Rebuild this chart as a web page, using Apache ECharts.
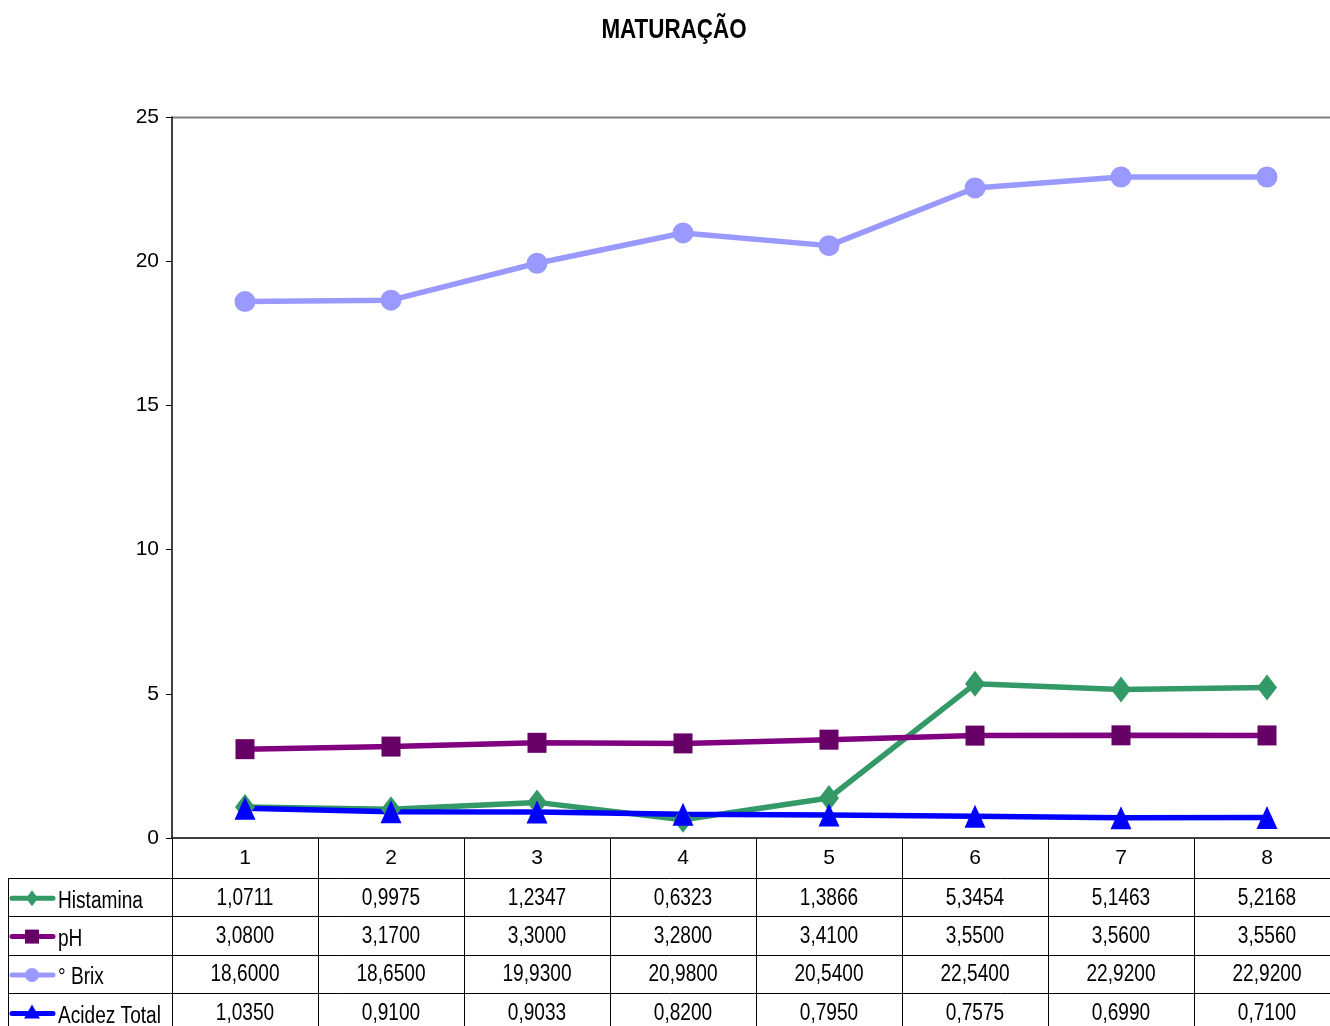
<!DOCTYPE html>
<html><head><meta charset="utf-8">
<script src="https://cdn.jsdelivr.net/npm/echarts@6/dist/echarts.min.js"></script>
<style>html,body{margin:0;padding:0;background:#fff}#c{width:1330px;height:1026px}</style>
</head><body><div id="c"></div>
<script>
var categories = ['1','2','3','4','5','6','7','8'];
var histamina = [1.0711, 0.9975, 1.2347, 0.6323, 1.3866, 5.3454, 5.1463, 5.2168];
var ph = [3.0800, 3.1700, 3.3000, 3.2800, 3.4100, 3.5500, 3.5600, 3.5560];
var brix = [18.6000, 18.6500, 19.9300, 20.9800, 20.5400, 22.5400, 22.9200, 22.9200];
var acidez = [1.0350, 0.9100, 0.9033, 0.8200, 0.7950, 0.7575, 0.6990, 0.7100];
var yTicks = [0, 5, 10, 15, 20, 25];
var seriesNames = ['Histamina', 'pH', '° Brix', 'Acidez Total'];
var titleText = 'MATURAÇÃO';

var FONT = '"Liberation Sans", Arial, sans-serif';
var SX = 0.83;
var chart = echarts.init(document.getElementById('c'));
var rows = [
  {name: seriesNames[0], data: histamina, color: '#339966', mcolor: '#339966', symbol: 'diamond', size: [20, 26]},
  {name: seriesNames[1], data: ph, color: '#800080', mcolor: '#660066', symbol: 'rect', size: [19, 20]},
  {name: seriesNames[2], data: brix, color: '#9999FF', mcolor: '#9999FF', symbol: 'circle', size: [21, 21]},
  {name: seriesNames[3], data: acidez, color: '#0000FF', mcolor: '#0000FF', symbol: 'triangle', size: [21, 23]}
];
var option = {
  animation: false,
  textStyle: {fontFamily: FONT},
  grid: {left: 172, width: 1168, top: 117, bottom: 188, containLabel: false, outerBoundsMode: 'none'},
  xAxis: {
    type: 'category', data: categories, boundaryGap: true,
    axisLine: {lineStyle: {color: '#000', width: 1.5}},
    axisTick: {show: true, length: 190, lineStyle: {color: '#000', width: 1}},
    axisLabel: {fontFamily: FONT, fontSize: 21, color: '#000', margin: 10}
  },
  yAxis: {
    type: 'value', min: 0, max: 25, interval: 5,
    axisLine: {show: true, lineStyle: {color: '#000', width: 1.5}},
    axisTick: {show: true, length: 6, lineStyle: {color: '#000'}},
    splitLine: {show: false},
    axisLabel: {fontFamily: FONT, fontSize: 21, color: '#000', margin: 13,
      formatter: function (v) { return yTicks.indexOf(v) >= 0 ? String(v) : ''; }}
  },
  series: rows.map(function (r) {
    return {
      name: r.name, type: 'line', data: r.data,
      symbol: r.symbol, symbolSize: r.size,
      lineStyle: {color: r.color, width: 5.5},
      itemStyle: {color: r.mcolor, borderWidth: 0}
    };
  })
};
chart.setOption(option);

function fmt(v) { return v.toFixed(4).replace('.', ','); }
var g = [];
var rowTop = 878, rowH = 38.4, tableLeft = 8, tableRight = 1340;
g.push({type: 'text', x: 674, y: 31, scaleX: SX, style: {text: titleText, font: 'bold 27px ' + FONT, fill: '#000', textAlign: 'center', textVerticalAlign: 'middle'}});
g.push({type: 'line', shape: {x1: 172, y1: 117.5, x2: 1330, y2: 117.5}, style: {stroke: '#808080', lineWidth: 2}});
for (var i = 0; i < 4; i++) {
  var y = Math.round(rowTop + i * rowH) + 0.5;
  g.push({type: 'line', shape: {x1: tableLeft, y1: y, x2: tableRight, y2: y}, style: {stroke: '#000', lineWidth: 1}});
}
g.push({type: 'line', shape: {x1: tableLeft + 0.5, y1: rowTop, x2: tableLeft + 0.5, y2: 1026}, style: {stroke: '#000', lineWidth: 1}});
rows.forEach(function (r, ri) {
  var cy = rowTop + ri * rowH + rowH / 2 + 1;
  g.push({type: 'line', shape: {x1: 12, y1: cy, x2: 53, y2: cy}, style: {stroke: r.color, lineWidth: 5, lineCap: 'round'}});
  var mx = 32;
  if (r.symbol === 'diamond') g.push({type: 'polygon', shape: {points: [[mx, cy - 8], [mx + 6, cy], [mx, cy + 8], [mx - 6, cy]]}, style: {fill: r.mcolor}});
  if (r.symbol === 'rect') g.push({type: 'rect', shape: {x: mx - 7, y: cy - 7, width: 14, height: 14}, style: {fill: r.mcolor}});
  if (r.symbol === 'circle') g.push({type: 'circle', shape: {cx: mx, cy: cy, r: 7}, style: {fill: r.mcolor}});
  if (r.symbol === 'triangle') g.push({type: 'polygon', shape: {points: [[mx, cy - 9], [mx + 8, cy + 5], [mx - 8, cy + 5]]}, style: {fill: r.mcolor}});
  g.push({type: 'text', x: 58, y: cy + 3, scaleX: SX, style: {text: r.name, font: '23px ' + FONT, fill: '#000', textVerticalAlign: 'middle', textAlign: 'left'}});
  r.data.forEach(function (v, ci) {
    var px = chart.convertToPixel({xAxisIndex: 0}, ci);
    g.push({type: 'text', x: px, y: cy, scaleX: SX, style: {text: fmt(v), font: '23px ' + FONT, fill: '#000', textAlign: 'center', textVerticalAlign: 'middle'}});
  });
});
chart.setOption({graphic: g});
</script></body></html>
